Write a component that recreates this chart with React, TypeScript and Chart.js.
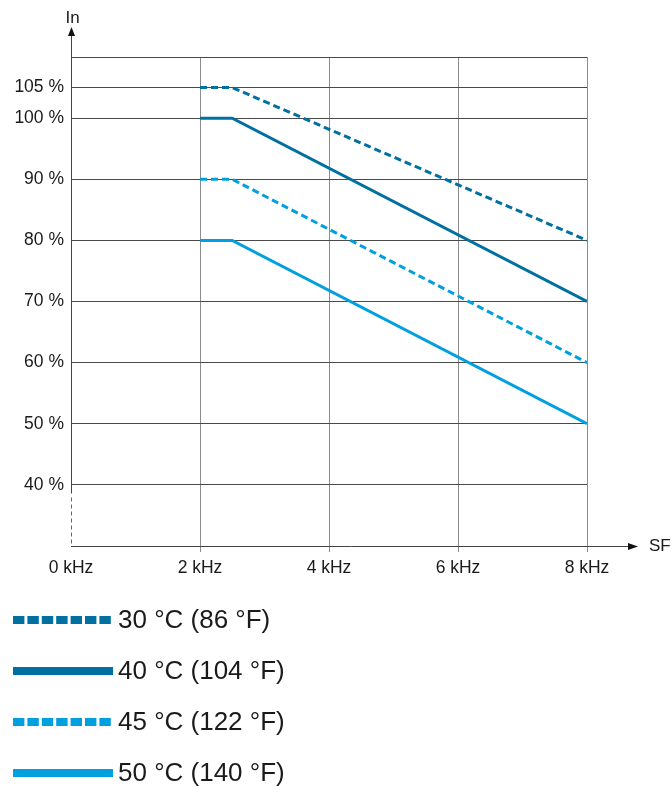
import React, { useEffect, useRef } from 'react';
import { Chart, registerables } from 'chart.js';

Chart.register(...registerables);

const freqKHz = [2, 2.5, 8];
const seriesLabels = ['30 °C (86 °F)', '40 °C (104 °F)', '45 °C (122 °F)', '50 °C (140 °F)'];
const in30C = [105, 105, 80];
const in40C = [100, 100, 70];
const in45C = [90, 90, 60];
const in50C = [80, 80, 50];
const yTickValues = [30, 40, 50, 60, 70, 80, 90, 100, 105, 110];
const xTickValues = [0, 2, 4, 6, 8];
const yAxisTitle = 'In';
const xAxisTitle = 'SF';

const DARK = '#0070a0';
const LIGHT = '#00a0e0';
const FONT = "'Liberation Sans', Arial, Helvetica, sans-serif";

const axesPlugin = {
  id: 'axesArrows',
  afterDatasetsDraw(chart: any) {
    const { ctx, scales } = chart;
    const xs = scales.x;
    const ys = scales.y;
    const ax = Math.round(xs.getPixelForValue(0)) + 0.5;
    const ay = Math.round(ys.getPixelForValue(30)) + 0.5;
    const y40 = Math.round(ys.getPixelForValue(40)) + 0.5;
    ctx.save();
    ctx.strokeStyle = '#444';
    ctx.fillStyle = '#111';
    ctx.lineWidth = 1;
    // y axis solid part
    ctx.beginPath();
    ctx.moveTo(ax, y40 + 8);
    ctx.lineTo(ax, 34);
    ctx.stroke();
    // y axis dashed break
    ctx.setLineDash([4, 3]);
    ctx.strokeStyle = '#666';
    ctx.beginPath();
    ctx.moveTo(ax, y40 + 12);
    ctx.lineTo(ax, ay);
    ctx.stroke();
    ctx.setLineDash([]);
    ctx.strokeStyle = '#444';
    // x axis
    ctx.beginPath();
    ctx.moveTo(ax - 0.5, ay);
    ctx.lineTo(630, ay);
    ctx.stroke();
    // arrow heads
    ctx.beginPath();
    ctx.moveTo(ax, 27);
    ctx.lineTo(ax - 3.5, 36);
    ctx.lineTo(ax + 3.5, 36);
    ctx.closePath();
    ctx.fill();
    ctx.beginPath();
    ctx.moveTo(638, ay);
    ctx.lineTo(628, ay - 3.5);
    ctx.lineTo(628, ay + 3.5);
    ctx.closePath();
    ctx.fill();
    // titles
    ctx.fillStyle = '#1a1a1a';
    ctx.font = `17px ${FONT}`;
    ctx.textBaseline = 'middle';
    ctx.textAlign = 'center';
    ctx.fillText(yAxisTitle, ax + 1, 18);
    ctx.textAlign = 'left';
    ctx.fillText(xAxisTitle, 649, ay);
    ctx.restore();
  },
};

const legendPlugin = {
  id: 'bottomLegend',
  afterDraw(chart: any) {
    const { ctx } = chart;
    ctx.save();
    chart.data.datasets.forEach((ds: any, i: number) => {
      const cy = 620 + i * 51;
      ctx.strokeStyle = ds.borderColor;
      ctx.lineWidth = 8;
      ctx.lineCap = 'butt';
      ctx.setLineDash(ds.borderDash && ds.borderDash.length ? [11.4, 3] : []);
      ctx.beginPath();
      ctx.moveTo(13, cy);
      ctx.lineTo(113, cy);
      ctx.stroke();
      ctx.setLineDash([]);
      ctx.fillStyle = '#1a1a1a';
      ctx.font = `26px ${FONT}`;
      ctx.textAlign = 'left';
      ctx.textBaseline = 'middle';
      ctx.fillText(ds.label, 118, cy + 1);
    });
    ctx.restore();
  },
};

export default function App() {
  const ref = useRef<HTMLCanvasElement>(null);
  useEffect(() => {
    if (!ref.current) return;
    const mk = (vals: number[]) => freqKHz.map((x, i) => ({ x, y: vals[i] }));
    const chart = new Chart(ref.current, {
      type: 'line',
      data: {
        datasets: [
          { label: seriesLabels[0], data: mk(in30C), borderColor: DARK, borderDash: [7, 4] },
          { label: seriesLabels[1], data: mk(in40C), borderColor: DARK, borderDash: [] },
          { label: seriesLabels[2], data: mk(in45C), borderColor: LIGHT, borderDash: [7, 4] },
          { label: seriesLabels[3], data: mk(in50C), borderColor: LIGHT, borderDash: [] },
        ],
      },
      options: {
        responsive: false,
        animation: false,
        layout: { padding: { left: 0, top: 57, right: 84, bottom: 187 } },
        plugins: { legend: { display: false }, tooltip: { enabled: false } },
        elements: {
          point: { radius: 0 },
          line: { tension: 0, borderWidth: 3, fill: false },
        },
        font: { family: FONT },
        scales: {
          x: {
            type: 'linear',
            min: 0,
            max: 8,
            afterBuildTicks: (s: any) => {
              s.ticks = xTickValues.map((v) => ({ value: v }));
            },
            afterFit: (s: any) => {
              s.height = 54;
            },
            ticks: {
              callback: (v: any) => `${v} kHz`,
              padding: 6,
              color: '#1a1a1a',
              font: { size: 17.5, family: FONT },
              maxRotation: 0,
              autoSkip: false,
            },
            grid: {
              color: (c: any) => (c.tick && c.tick.value === 0 ? 'rgba(0,0,0,0)' : '#8c8c8c'),
              tickLength: 6,
              lineWidth: 1,
            },
            border: { display: false },
          },
          y: {
            type: 'linear',
            min: 30,
            max: 110,
            afterBuildTicks: (s: any) => {
              s.ticks = yTickValues.map((v) => ({ value: v }));
            },
            afterFit: (s: any) => {
              s.width = 71;
            },
            ticks: {
              callback: (v: any) => (v === 30 || v === 110 ? '' : `${v} %`),
              padding: 7,
              color: '#1a1a1a',
              font: { size: 17.5, family: FONT },
              autoSkip: false,
            },
            grid: {
              color: (c: any) => (c.tick && c.tick.value === 30 ? 'rgba(0,0,0,0)' : '#4a4a4a'),
              drawTicks: false,
              lineWidth: 1,
            },
            border: { display: false },
          },
        },
      } as any,
      plugins: [axesPlugin, legendPlugin],
    });
    return () => chart.destroy();
  }, []);
  return (
    <canvas
      ref={ref}
      width={671}
      height={787}
      style={{ position: 'absolute', left: 0, top: 0, width: 671, height: 787 }}
    />
  );
}
